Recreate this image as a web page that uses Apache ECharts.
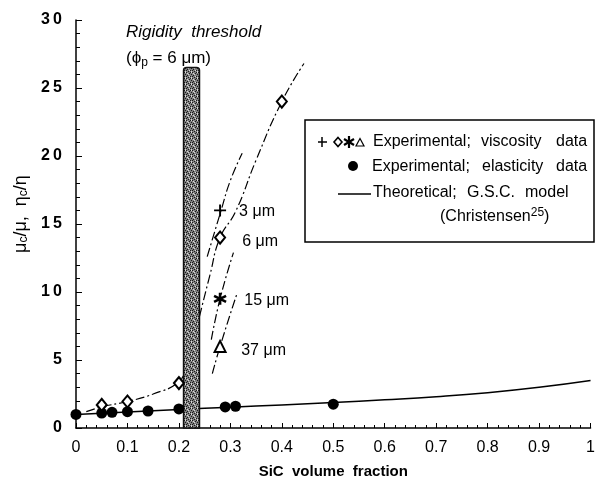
<!DOCTYPE html>
<html><head><meta charset="utf-8">
<script src="https://cdn.jsdelivr.net/npm/echarts@6/dist/echarts.min.js"></script>
<style>html,body{margin:0;padding:0;background:#fff}#c{width:598px;height:495px}</style>
</head><body><div id="c"></div>
<script>
// ---- data ----
var xTicks = [0, 0.1, 0.2, 0.3, 0.4, 0.5, 0.6, 0.7, 0.8, 0.9, 1];
var yTicks = [0, 5, 10, 15, 20, 25, 30];
var viscPlus = [[0.28, 16.0]];                // 3 um
var viscDiamond = [[0.05, 1.7], [0.1, 1.95], [0.2, 3.3], [0.28, 14.0], [0.4, 24.0]]; // 6 um
var viscStar = [[0.28, 9.5]];                 // 15 um
var viscTriangle = [[0.28, 6.0]];             // 37 um
var elastic = [[0, 1.0], [0.05, 1.1], [0.07, 1.15], [0.1, 1.2], [0.14, 1.25], [0.2, 1.4], [0.29, 1.55], [0.31, 1.6], [0.5, 1.75]];
var theoryGSC = [[0, 1.0], [0.1, 1.18], [0.2, 1.36], [0.3, 1.53], [0.4, 1.7], [0.5, 1.87], [0.6, 2.07], [0.7, 2.3], [0.8, 2.6], [0.9, 3.0], [1.0, 3.5]];
var curve6Low = [[0.02, 1.2], [0.05, 1.55], [0.1, 1.95], [0.15, 2.5], [0.2, 3.4], [0.215, 4.6]];
var curve6High = [[0.24, 8.2], [0.26, 11.2], [0.28, 14.0], [0.31, 15.9], [0.35, 19.7], [0.4, 24.0], [0.443, 26.8]];
var curve3 = [[0.255, 12.6], [0.282, 16.0], [0.3, 18.2], [0.323, 20.2]];
var curve15 = [[0.263, 6.5], [0.28, 9.5], [0.306, 12.9]];
var curve37 = [[0.265, 4.0], [0.28, 6.0], [0.313, 9.9]];
var threshold = [[0.209, 0.24, 26.5]];
var sizeLabels = [[0.317, 15.9, '3 μm'], [0.323, 13.7, '6 μm'], [0.327, 9.4, '15 μm'], [0.321, 5.7, '37 μm']];

// ---- stipple pattern for the threshold bar ----
var pc = document.createElement('canvas'); pc.width = 6; pc.height = 6;
var pctx = pc.getContext('2d');
pctx.fillStyle = '#808080'; pctx.fillRect(0, 0, 6, 6);
pctx.fillStyle = '#1a1a1a';
[[0, 0], [3, 1], [1, 3], [4, 4], [5, 2], [2, 5], [4, 0], [0, 4]].forEach(function (p) { pctx.fillRect(p[0], p[1], 1, 1); });
pctx.fillStyle = '#d8d8d8';
[[2, 2], [5, 5], [1, 1], [3, 4], [5, 0]].forEach(function (p) { pctx.fillRect(p[0], p[1], 1, 1); });

var FONT = '"Liberation Sans", Arial, sans-serif';
var dashDot = { color: '#000', width: 1.2, type: [9, 3, 2, 3] };
function spaced(s) { return String(s).split('').join('\u2009'); }

var chart = echarts.init(document.getElementById('c'), null, { renderer: 'canvas' });
chart.setOption({
  animation: false,
  backgroundColor: '#fff',
  textStyle: { fontFamily: FONT, color: '#000' },
  grid: { left: 76, right: 5, top: 20, bottom: 67, containLabel: false },
  xAxis: {
    type: 'value', min: 0, max: 1, interval: 0.1,
    name: 'SiC  volume  fraction', nameLocation: 'middle', nameGap: 36,
    nameTextStyle: { fontFamily: FONT, fontWeight: 'bold', fontSize: 15, color: '#000' },
    axisLine: { lineStyle: { color: '#000', width: 1.5 } },
    axisTick: { inside: true, length: 5, lineStyle: { color: '#000' } },
    minorTick: { show: true, splitNumber: 5, length: 3, lineStyle: { color: '#000' } },
    splitLine: { show: false },
    axisLabel: { margin: 12, fontSize: 16, color: '#000', fontFamily: FONT,
      formatter: function (v) { var r = Math.round(v * 10) / 10; return xTicks.indexOf(r) >= 0 ? String(r) : ''; } }
  },
  yAxis: {
    type: 'value', min: 0, max: 30, interval: 5,
    name: '{a|μ}{s|c}{a|/μ,  η}{s|c}{a|/η}', nameLocation: 'middle', nameGap: 42,
    nameTextStyle: { padding: [0, 0, 0, 20], rich: {
      a: { fontFamily: FONT, fontSize: 18, color: '#000', verticalAlign: 'middle' },
      s: { fontFamily: FONT, fontSize: 12, color: '#000', verticalAlign: 'bottom', padding: [7, 0, 0, 0] } } },
    axisLine: { lineStyle: { color: '#000', width: 1.5 } },
    axisTick: { inside: true, length: 6, lineStyle: { color: '#000' } },
    minorTick: { show: true, splitNumber: 5, length: 4, lineStyle: { color: '#000' } },
    splitLine: { show: false },
    axisLabel: { margin: 14, fontSize: 16, fontWeight: 'bold', color: '#000', fontFamily: FONT,
      formatter: function (v) { return yTicks.indexOf(v) >= 0 ? spaced(v) : ''; } }
  },
  series: [
    { type: 'line', data: theoryGSC, smooth: true, symbol: 'none', lineStyle: { color: '#000', width: 1.5 }, z: 3 },
    { type: 'line', data: curve6Low, smooth: true, symbol: 'none', lineStyle: dashDot, z: 3 },
    { type: 'line', data: curve6High, smooth: true, symbol: 'none', lineStyle: dashDot, z: 3 },
    { type: 'line', data: curve3, smooth: true, symbol: 'none', lineStyle: dashDot, z: 3 },
    { type: 'line', data: curve15, smooth: true, symbol: 'none', lineStyle: dashDot, z: 3 },
    { type: 'line', data: curve37, smooth: true, symbol: 'none', lineStyle: dashDot, z: 3 },
    { type: 'custom', data: threshold, z: 6,
      renderItem: function (params, api) {
        var p0 = api.coord([api.value(0), api.value(2)]);
        var p1 = api.coord([api.value(1), 0]);
        return { type: 'rect', shape: { x: p0[0], y: p0[1], width: p1[0] - p0[0], height: p1[1] - p0[1], r: [3, 3, 0, 0] },
          style: { fill: { image: pc, repeat: 'repeat' }, stroke: '#111', lineWidth: 1.5 } };
      } },
    { type: 'scatter', data: elastic, symbol: 'circle', symbolSize: 11, itemStyle: { color: '#000', opacity: 1 }, z: 7 },
    { type: 'scatter', data: viscDiamond, symbol: 'diamond', symbolSize: [10, 12],
      itemStyle: { color: '#fff', borderColor: '#000', borderWidth: 2, opacity: 1 }, z: 8 },
    { type: 'scatter', data: viscTriangle, symbol: 'triangle', symbolSize: 11,
      itemStyle: { color: '#fff', borderColor: '#000', borderWidth: 2, opacity: 1 }, z: 8 },
    { type: 'scatter', data: viscPlus, symbol: 'path://M4.2,0h1.6v10h-1.6z M0,4.2h10v1.6h-10z', symbolSize: 12,
      itemStyle: { color: '#000', opacity: 1 }, z: 8 },
    { type: 'scatter', data: viscStar, symbol: 'path://M5,0L5,10M0.67,2.5L9.33,7.5M0.67,7.5L9.33,2.5', symbolSize: 12,
      itemStyle: { color: 'rgba(0,0,0,0)', borderColor: '#000', borderWidth: 2.6, opacity: 1 }, z: 8 },
    { type: 'scatter', data: sizeLabels, symbolSize: 0, z: 9, silent: true, itemStyle: { opacity: 1 },
      label: { show: true, position: 'right', distance: 0, fontFamily: FONT, fontSize: 16, color: '#000',
        formatter: function (p) { return p.data[2]; } } }
  ],
  graphic: [
    { type: 'text', x: 126, y: 24, style: { text: 'Rigidity  threshold', fontFamily: FONT, fontStyle: 'italic', fontSize: 17, fill: '#000' } },
    { type: 'text', x: 126, y: 48, style: {
      text: '{a|(ϕ}{s|p}{a| = 6 μm)}',
      rich: { a: { fontFamily: FONT, fontSize: 17, fill: '#000' }, s: { fontFamily: FONT, fontSize: 12, fill: '#000', padding: [9, 0, 0, 0] } } } },
    { type: 'rect', shape: { x: 305, y: 120, width: 289, height: 122 }, style: { fill: '#fff', stroke: '#000', lineWidth: 1.5 }, z: 10 },
    { type: 'line', z: 11, shape: { x1: 318, y1: 142, x2: 327, y2: 142 }, style: { stroke: '#000', lineWidth: 1.5 } },
    { type: 'line', z: 11, shape: { x1: 322, y1: 137, x2: 322, y2: 147 }, style: { stroke: '#000', lineWidth: 1.5 } },
    { type: 'polygon', z: 11, shape: { points: [[338, 137.5], [342, 142], [338, 146.5], [334, 142]] }, style: { fill: '#fff', stroke: '#000', lineWidth: 1.6 } },
    { type: 'line', z: 11, shape: { x1: 349, y1: 136, x2: 349, y2: 148 }, style: { stroke: '#000', lineWidth: 2.2 } },
    { type: 'line', z: 11, shape: { x1: 344, y1: 139, x2: 354, y2: 145 }, style: { stroke: '#000', lineWidth: 2.2 } },
    { type: 'line', z: 11, shape: { x1: 344, y1: 145, x2: 354, y2: 139 }, style: { stroke: '#000', lineWidth: 2.2 } },
    { type: 'polygon', z: 11, shape: { points: [[360, 138.5], [364, 146], [356, 146]] }, style: { fill: '#fff', stroke: '#000', lineWidth: 1.2 } },
    { type: 'text', x: 373, y: 142, z: 11, style: { text: 'Experimental;', fontFamily: FONT, fontSize: 16, fill: '#000', verticalAlign: 'middle' } },
    { type: 'text', x: 481, y: 142, z: 11, style: { text: 'viscosity', fontFamily: FONT, fontSize: 16, fill: '#000', verticalAlign: 'middle' } },
    { type: 'text', x: 556, y: 142, z: 11, style: { text: 'data', fontFamily: FONT, fontSize: 16, fill: '#000', verticalAlign: 'middle' } },
    { type: 'circle', z: 11, shape: { cx: 353, cy: 166, r: 5 }, style: { fill: '#000' } },
    { type: 'text', x: 372, y: 167, z: 11, style: { text: 'Experimental;', fontFamily: FONT, fontSize: 16, fill: '#000', verticalAlign: 'middle' } },
    { type: 'text', x: 482, y: 167, z: 11, style: { text: 'elasticity', fontFamily: FONT, fontSize: 16, fill: '#000', verticalAlign: 'middle' } },
    { type: 'text', x: 556, y: 167, z: 11, style: { text: 'data', fontFamily: FONT, fontSize: 16, fill: '#000', verticalAlign: 'middle' } },
    { type: 'line', z: 11, shape: { x1: 338, y1: 194, x2: 371, y2: 194 }, style: { stroke: '#000', lineWidth: 1.5 } },
    { type: 'text', x: 373, y: 193, z: 11, style: { text: 'Theoretical;', fontFamily: FONT, fontSize: 16, fill: '#000', verticalAlign: 'middle' } },
    { type: 'text', x: 467, y: 193, z: 11, style: { text: 'G.S.C.', fontFamily: FONT, fontSize: 16, fill: '#000', verticalAlign: 'middle' } },
    { type: 'text', x: 525, y: 193, z: 11, style: { text: 'model', fontFamily: FONT, fontSize: 16, fill: '#000', verticalAlign: 'middle' } },
    { type: 'text', x: 440, y: 217, z: 11, style: {
      text: '{a|(Christensen}{u|25}{a|)}', verticalAlign: 'middle',
      rich: { a: { fontFamily: FONT, fontSize: 16, fill: '#000' }, u: { fontFamily: FONT, fontSize: 12, fill: '#000', padding: [0, 0, 8, 0] } } } }
  ]
});
</script></body></html>
